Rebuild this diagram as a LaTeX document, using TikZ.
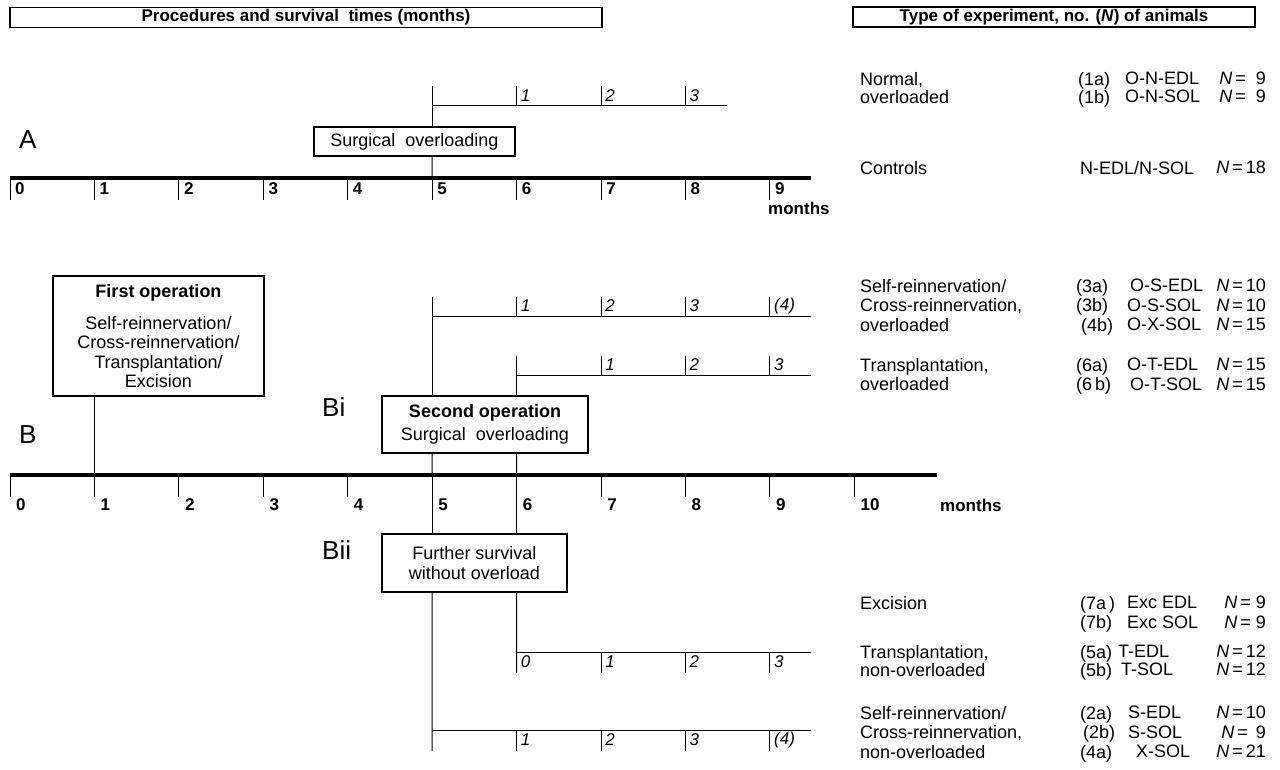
\documentclass[tikz,border=0pt]{standalone}
\usepackage{fontspec}
\setmainfont{Liberation Sans}
\usetikzlibrary{positioning}
\newcommand{\tightlines}{\lineskiplimit-20pt\relax}

\begin{document}
\begin{tikzpicture}[x=1pt, y=-1pt,
    every node/.style={inner sep=0pt, font=\fontsize{18}{19.5}\selectfont},
    head/.style={draw, line width=1.5pt, minimum height=20pt, font=\fontsize{17}{18}\selectfont\bfseries},
    opbox/.style={draw, line width=1.2pt, fill=white, align=center},
    axisline/.style={line width=3.5pt},
    stem/.style={line width=1pt},
    monthlab/.style={anchor=west, font=\fontsize{17}{18}\selectfont\bfseries},
    survlab/.style={anchor=west, font=\fontsize{17}{18}\selectfont\itshape},
    partlab/.style={anchor=west, font=\fontsize{26}{30}\selectfont},
    coltext/.style={anchor=north west, align=left},
    coln/.style={anchor=north east, align=right},
    tight/.style={font=\fontsize{18}{18}\selectfont\tightlines}]

  \useasboundingbox (0,0) rectangle (1280,770);

  % headings
  \node (hproc) [head, minimum width=592pt] at (306,17.5) {Procedures and survival \ times (months)};
  \node (htype) [head, minimum width=402pt] at (1054,17) {Type of experiment, no. (\textit{N}) of animals};

  % A
  \node (lA) [partlab] at (19,140) {A};
  \foreach \m in {0,...,9} {
    \coordinate (A\m) at ({10+84.44*\m},178);
    \draw [stem] (A\m) -- ++(0,22);
    \node (Al\m) [monthlab] at ([xshift=5pt,yshift=-11pt]A\m) {\m};
  }
  \coordinate (Aend) at (811,178);
  \draw [axisline] (A0) -- (Aend);
  \node (Amon) [monthlab] at (768,208) {months};

  \node (ovlA) [opbox, minimum width=201pt, minimum height=29pt] at (414.5,141.5) {Surgical \ overloading};
  \coordinate (Atop) at (432.2,86);
  \draw [stem] (Atop) -- (ovlA.north -| Atop);
  \draw [stem] (ovlA.south -| Atop) -- (A5);
  \coordinate (Aend1) at (727,106);
  \draw [stem] (Atop |- Aend1) -- (Aend1);
  \foreach \m/\t in {6/1,7/2,8/3} {
    \coordinate (Ab\m) at ({10+84.44*\m},106);
    \draw [stem] (Ab\m) -- ++(0,-20);
    \node (Abl\m) [survlab] at ([xshift=4pt,yshift=10pt]Ab\m) {\t};
  }

  % B
  \node (lB) [partlab] at (19,435) {B};
  \foreach \m in {0,...,10} {
    \coordinate (B\m) at ({10+84.44*\m},475);
    \draw [stem] (B\m) -- ++(0,22);
    \node (Bl\m) [monthlab] at ([xshift=6pt,yshift=-30pt]B\m) {\m};
  }
  \coordinate (Bend) at (937,475);
  \draw [axisline] (B0) -- (Bend);
  \node (Bmon) [monthlab] at (940,505) {months};

  \node (op1) [opbox, minimum width=211pt, minimum height=120pt] at (158.5,336)
    {\textbf{First operation}\\[12.5pt]Self-reinnervation/\\Cross-reinnervation/\\Transplantation/\\Excision};
  \draw [stem] (op1.south -| B1) -- (B1);

  % Bi
  \node (lBi) [partlab] at (322,407) {Bi};
  \node (op2) [opbox, minimum width=206pt, minimum height=57pt] at (485,424.5)
    {\textbf{Second operation}\\[3.5pt]Surgical \ overloading};
  \coordinate (Btop1) at (432.2,297);
  \coordinate (Btop2) at (516.6,356);
  \draw [stem] (Btop1) -- (op2.north -| Btop1);
  \draw [stem] (Btop2) -- (op2.north -| Btop2);
  \draw [stem] (op2.south -| Btop1) -- (B5);
  \draw [stem] (op2.south -| Btop2) -- (B6);

  \coordinate (Bend1) at (811,316);
  \draw [stem] (Btop1 |- Bend1) -- (Bend1);
  \foreach \m/\t in {6/1,7/2,8/3,9/(4)} {
    \coordinate (Bb\m) at ({10+84.44*\m},316);
    \draw [stem] (Bb\m) -- ++(0,-19);
    \node (Bbl\m) [survlab] at ([xshift=4pt,yshift=10pt]Bb\m) {\t};
  }
  \coordinate (Bend2) at (811,375);
  \draw [stem] (Btop2 |- Bend2) -- (Bend2);
  \foreach \m/\t in {7/1,8/2,9/3} {
    \coordinate (Bt\m) at ({10+84.44*\m},375);
    \draw [stem] (Bt\m) -- ++(0,-19);
    \node (Btl\m) [survlab] at ([xshift=4pt,yshift=10pt]Bt\m) {\t};
  }

  % Bii
  \node (lBii) [partlab] at (322,550) {Bii};
  \node (fsv) [opbox, minimum width=185pt, minimum height=58pt] at (474.5,563)
    {Further survival\\without overload};
  \draw [stem] (B5) -- (fsv.north -| B5);
  \draw [stem] (B6) -- (fsv.north -| B6);
  \coordinate (Bbot1) at (432.2,751);
  \coordinate (Bbot2) at (516.6,673);
  \draw [stem] (fsv.south -| B5) -- (Bbot1);
  \draw [stem] (fsv.south -| B6) -- (Bbot2);

  \coordinate (Bend3) at (811,652);
  \draw [stem] (Bbot2 |- Bend3) -- (Bend3);
  \foreach \m/\t in {6/0,7/1,8/2,9/3} {
    \coordinate (Bx\m) at ({10+84.44*\m},652);
    \draw [stem] (Bx\m) -- ++(0,21);
    \node (Bxl\m) [survlab] at ([xshift=4pt,yshift=-10pt]Bx\m) {\t};
  }
  \coordinate (Bend4) at (811,730);
  \draw [stem] (Bbot1 |- Bend4) -- (Bend4);
  \foreach \m/\t in {6/1,7/2,8/3,9/(4)} {
    \coordinate (By\m) at ({10+84.44*\m},730);
    \draw [stem] (By\m) -- ++(0,21);
    \node (Byl\m) [survlab] at ([xshift=4pt,yshift=-10pt]By\m) {\t};
  }

  % type of experiment column
  \node (dNorm) [coltext, tight] at (860,72) {Normal,\\overloaded};
  \node (kNorm) [coltext, tight] at (1078,72) {(1a)\\(1b)};
  \node (cNorm) [coltext, tight] at (1125,72) {O-N-EDL\\O-N-SOL};
  \node (nNorm) [coln, tight] at (1266,72) {\textit{N}\,= \ 9\\\textit{N}\,= \ 9};

  \node (dCtrl) [coltext] at (860,161) {Controls};
  \node (cCtrl) [coltext] at (1080,161) {N-EDL/N-SOL};
  \node (nCtrl) [coln] at (1266,161) {\textit{N}\,=\,18};

  \node (dSelfO) [coltext] at (860,279) {Self-reinnervation/\\Cross-reinnervation,\\overloaded};
  \node (kSelfO) [coltext] at (1076,279) {(3a)\\(3b)\\\ (4b)};
  \node (cSelfO) [coltext] at (1127,279) {\,O-S-EDL\\O-S-SOL\\O-X-SOL};
  \node (nSelfO) [coln] at (1266,279) {\textit{N}\,=\,10\\\textit{N}\,=\,10\\\textit{N}\,=\,15};

  \node (dTrO) [coltext] at (860,358) {Transplantation,\\overloaded};
  \node (kTrO) [coltext] at (1076,358) {(6a)\\(6\,b)};
  \node (cTrO) [coltext] at (1127,358) {O-T-EDL\\\,O-T-SOL};
  \node (nTrO) [coln] at (1266,358) {\textit{N}\,=\,15\\\textit{N}\,=\,15};

  \node (dExc) [coltext] at (860,596) {Excision};
  \node (kExc) [coltext] at (1080,596) {(7a\,)\\(7b)};
  \node (cExc) [coltext] at (1127,596) {Exc EDL\\Exc SOL};
  \node (nExc) [coln] at (1266,596) {\textit{N}\,= 9\\\textit{N}\,= 9};

  \node (dTrN) [coltext, font=\fontsize{18}{18}\selectfont] at (860,645) {Transplantation,\\non-overloaded};
  \node (kTrN) [coltext, font=\fontsize{18}{18}\selectfont] at (1080,645) {(5a)\\(5b)};
  \node (cTrN) [coltext, font=\fontsize{18}{18}\selectfont] at (1118,645) {T-EDL\\\,T-SOL};
  \node (nTrN) [coln, font=\fontsize{18}{18}\selectfont] at (1266,645) {\textit{N}\,=\,12\\\textit{N}\,=\,12};

  \node (dSelfN) [coltext] at (860,706) {Self-reinnervation/\\Cross-reinnervation,\\non-overloaded};
  \node (kSelfN) [coltext] at (1080,706) {(2a)\\\,(2b)\\(4a)};
  \node (cSelfN) [coltext] at (1128,706) {S-EDL\\S-SOL\\\ \,X-SOL};
  \node (nSelfN) [coln] at (1266,706) {\textit{N}\,=\,10\\\textit{N}\,=\ \,9\\\textit{N}\,=\,21};

\end{tikzpicture}
\end{document}
